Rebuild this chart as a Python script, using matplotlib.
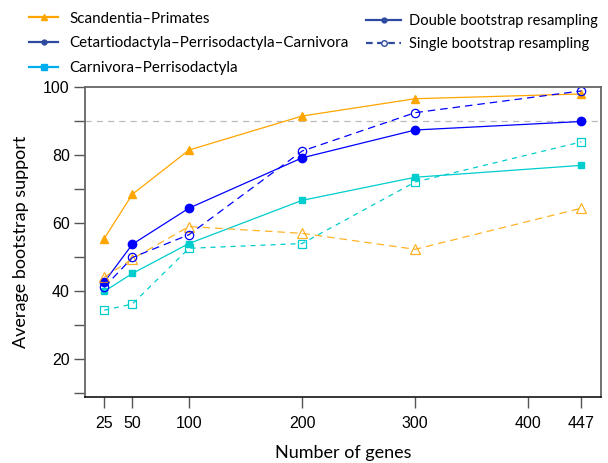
import numpy as np
import matplotlib.pyplot as plt
from matplotlib.lines import Line2D

# number of genes
genes = [25, 50, 100, 200, 300, 447]
xtick_vals = [25, 50, 100, 200, 300, 400, 447]

# double bootstrap (solid) and single bootstrap (dashed)
scand_double = [55.3, 68.4, 81.4, 91.4, 96.5, 97.9]
scand_single = [44.0, 49.4, 58.9, 56.9, 52.2, 64.3]
cetar_double = [42.5, 53.7, 64.3, 79.1, 87.3, 89.8]
cetar_single = [41.0, 49.8, 56.5, 81.1, 92.4, 98.8]
carni_double = [39.8, 45.1, 53.9, 66.6, 73.4, 76.9]
carni_single = [34.3, 36.1, 52.5, 53.9, 72.0, 83.8]

orange = "#FFA500"
blue = "#0000FF"
cyan = "#00CDCD"

lab_font = "Lato"
tick_font = "Liberation Sans"

fig = plt.figure(figsize=(6.08, 4.63), dpi=100)
ax = fig.add_axes([0.1398, 0.1425, 0.848, 0.670])

ax.axhline(90, color="#BBBBBB", lw=0.9, ls=(0, (5, 4)), zorder=0)

# solid = double bootstrap
ax.plot(genes, scand_double, color=orange, lw=0.9, marker="^", ms=5.5)
ax.plot(genes, cetar_double, color=blue, lw=0.9, marker="o", ms=6)
ax.plot(genes, carni_double, color=cyan, lw=0.9, marker="s", ms=4.5)

# dashed = single bootstrap
ax.plot(genes, scand_single, color=orange, lw=0.9, ls=(0, (6, 4)), marker="^",
        ms=7, mfc="none", mew=0.9, alpha=0.85)
ax.plot(genes, cetar_single, color=blue, lw=0.9, ls=(0, (6, 4)), marker="o",
        ms=6, mfc="none", mew=0.9)
ax.plot(genes, carni_single, color=cyan, lw=0.9, ls=(0, (4, 4)), marker="s",
        ms=5.5, mfc="none", mew=0.9)

ax.set_xlim(8.1, 463.9)
ax.set_ylim(8.75, 100)
ax.set_xticks(xtick_vals)
ax.set_xticklabels([str(v) for v in xtick_vals], fontfamily=tick_font, fontsize=11.5)
ax.set_yticks(np.arange(10, 101, 10))
ax.set_yticklabels(["" if v % 20 else str(v) for v in range(10, 101, 10)],
                   fontfamily=tick_font, fontsize=11.5)
ax.tick_params(axis="both", length=8, width=1.0, color="#555555", pad=3)
ax.tick_params(axis="x", pad=6)

for s in ["left", "right", "top"]:
    ax.spines[s].set_color("#666666")
    ax.spines[s].set_linewidth(1.3)
ax.spines["bottom"].set_color("black")
ax.spines["bottom"].set_linewidth(1.1)

ax.set_xlabel("Number of genes", fontfamily=lab_font, fontsize=13, labelpad=10)
ax.set_ylabel("Average bootstrap support", fontfamily=lab_font, fontsize=13, labelpad=10)

# legends
h1 = [Line2D([], [], color=orange, lw=1.6, marker="^", ms=4),
      Line2D([], [], color="#2E4A9E", lw=1.6, marker="o", ms=3.5),
      Line2D([], [], color="#00AEEF", lw=1.6, marker="s", ms=4)]
l1 = ["Scandentia\u2013Primates",
      "Cetartiodactyla\u2013Perrisodactyla\u2013Carnivora",
      "Carnivora\u2013Perrisodactyla"]
leg1 = fig.legend(h1, l1, loc="upper left", bbox_to_anchor=(0.048, 0.975),
                  frameon=False, borderpad=0, borderaxespad=0,
                  handlelength=1.9, handletextpad=0.75,
                  labelspacing=0.72, prop={"family": lab_font, "size": 10.9})

h2 = [Line2D([], [], color="#2E4A9E", lw=1.6, marker="o", ms=3.5),
      Line2D([], [], color="#2E4A9E", lw=1.6, ls=(0, (3, 2)), marker="o", ms=4,
             mfc="white")]
l2 = ["Double bootstrap resampling", "Single bootstrap resampling"]
leg2 = fig.legend(h2, l2, loc="upper left", bbox_to_anchor=(0.602, 0.97),
                  frameon=False, borderpad=0, borderaxespad=0,
                  handlelength=2.4, handletextpad=0.55,
                  labelspacing=0.62, prop={"family": lab_font, "size": 10.6})

fig.savefig("out.png", dpi=100)
